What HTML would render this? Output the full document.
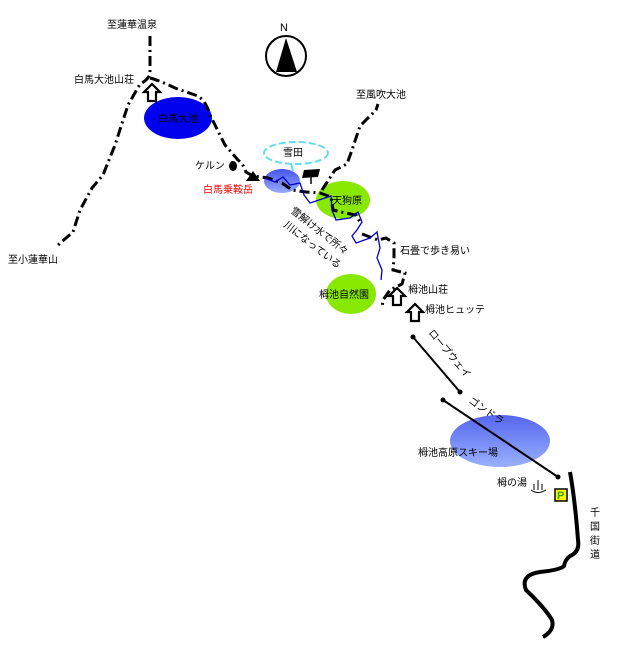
<!DOCTYPE html>
<html><head><meta charset="utf-8"><style>
html,body{margin:0;padding:0;background:#fff;}
svg text{font-family:"Liberation Sans","Noto Sans CJK JP",sans-serif;font-size:10px;fill:#000;}
</style></head><body>
<svg width="640" height="640" viewBox="0 0 640 640" xmlns="http://www.w3.org/2000/svg">
<defs>
<linearGradient id="g1" x1="0" y1="0" x2="0" y2="1"><stop offset="0" stop-color="#4455ee"/><stop offset="1" stop-color="#99aaff"/></linearGradient>
<linearGradient id="g2" x1="0" y1="0" x2="0" y2="1"><stop offset="0" stop-color="#5566ee"/><stop offset="1" stop-color="#99b0ff"/></linearGradient>
</defs>
<ellipse cx="178" cy="118" rx="34" ry="21" fill="#0000ee"/>
<ellipse cx="282" cy="181" rx="18" ry="12" fill="url(#g1)"/>
<ellipse cx="343" cy="200" rx="27" ry="19" fill="#88e800"/>
<ellipse cx="351" cy="294" rx="25" ry="20" fill="#88e800"/>
<ellipse cx="500" cy="441" rx="50" ry="26" fill="url(#g2)"/>
<ellipse cx="296" cy="153" rx="32" ry="11" fill="none" stroke="#66ddee" stroke-width="2" stroke-dasharray="7,3"/>
<path d="M291 164 L293 171" stroke="#66ddee" stroke-width="2"/>
<g fill="none" stroke="#000" stroke-width="3" stroke-dasharray="10,4,2,4" stroke-linecap="butt">
<path d="M150 36 L150 74 Q148 80 140 84 L128 105 L115 145 L103 175 L92 188 L80 210 L73 232 L58 245"/>
<path d="M150 78 Q158 80 175 88 L195 95 Q205 98 210 115 L225 145 L238 160 Q244 165 246 172 L253 176 L268 178 L282 183 L292 190 L306 192 L320 193 L331 197 L333 210 L345 213 L356 215 L360 222"/>
<path d="M322 190 L335 170 L347 164 L352 150 L360 126 L368 118 L376 110 L378 104"/>
<path d="M362 234 L378 240 L386 238 L394 243 L394 258 L393 270 L405 273 L402 284 L390 290 L383 300 L382 308"/>
</g>
<path d="M265 178 L275 182 L283 177 L290 185 L300 183 L304 195 L310 203 L325 198 L331 196 L332 210 L336 220 L350 218 L358 212 L362 222 L357 230 L352 236 L356 243 L370 238 L377 232 L380 248 L377 258 L382 270 L381 280" fill="none" stroke="#0000cc" stroke-width="1.3"/>
<polygon points="246,181 253,171 260,181" fill="#000"/>
<ellipse cx="233" cy="166" rx="4" ry="5" fill="#000"/>
<polygon points="304,170 320,169 318,177 302,178" fill="#000"/><path d="M311 177 L311 184" stroke="#000" stroke-width="1.5"/>
<g fill="#fff" stroke="#000" stroke-width="2.2">
<polygon points="152,84 160,92 156,92 156,101 148,101 148,92 144,92"/>
<polygon points="397,288 405,296 401,296 401,305 393,305 393,296 389,296"/>
<polygon points="415,304 423,312 419,312 419,321 411,321 411,312 407,312"/>
</g>
<circle cx="286" cy="56" r="20" fill="#fff" stroke="#000" stroke-width="2"/>
<polygon points="286,38 276,72 297,72" fill="#000"/>
<text x="280" y="31" style="font-size:11px">N</text>
<g stroke="#000" stroke-width="2"><path d="M413 337 L460 392"/><path d="M443 400 L558 477"/></g>
<g fill="#000"><circle cx="413" cy="337" r="2.5"/><circle cx="460" cy="392" r="2.5"/><circle cx="443" cy="400" r="2.5"/><circle cx="558" cy="477" r="2.5"/></g>
<path d="M570 472 Q575 500 578 540 Q580 552 570 556 Q565 560 564 566 Q560 570 540 572 Q520 575 526 590 Q545 608 552 620 Q555 630 543 637" fill="none" stroke="#000" stroke-width="4"/>
<path d="M534 484 L534 490 M538 480 L538 490 M542 484 L542 490 M531 490 Q538 495 546 490" fill="none" stroke="#000" stroke-width="1"/>
<rect x="555" y="489" width="12" height="12" fill="#ffff00" stroke="#000" stroke-width="1.5"/>
<text x="557" y="499" style="font-size:11px;fill:#33aa00;font-weight:bold">P</text>
<text x="107" y="28">至蓮華温泉</text>
<text x="74" y="83">白馬大池山荘</text>
<text x="158" y="122">白馬大池</text>
<text x="356" y="98">至風吹大池</text>
<text x="283" y="156">雪田</text>
<text x="195" y="169">ケルン</text>
<text x="203" y="193" style="fill:#ee0000">白馬乗鞍岳</text>
<text x="332" y="204">天狗原</text>
<text x="400" y="254">石畳で歩き易い</text>
<text x="319" y="298">栂池自然園</text>
<text x="408" y="293">栂池山荘</text>
<text x="425" y="313">栂池ヒュッテ</text>
<text x="418" y="456">栂池高原スキー場</text>
<text x="497" y="486">栂の湯</text>
<text x="8" y="263">至小蓮華山</text>
<text x="290" y="212" transform="rotate(38 290 212)">雪解け水で所々</text>
<text x="283" y="226" transform="rotate(38 283 226)">川になっている</text>
<text x="428" y="333" transform="rotate(50 428 333)">ロープウェイ</text>
<text x="468" y="402" transform="rotate(35 468 402)">ゴンドラ</text>
<text x="590" y="516">千</text><text x="590" y="530">国</text><text x="590" y="544">街</text><text x="590" y="558">道</text>
</svg>
</body></html>
